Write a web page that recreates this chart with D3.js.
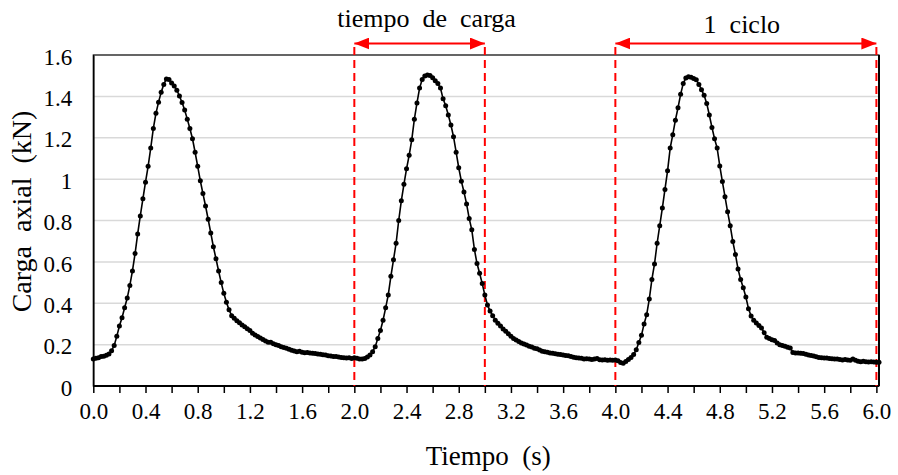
<!DOCTYPE html>
<html>
<head>
<meta charset="utf-8">
<script src="https://cdn.jsdelivr.net/npm/d3@7"></script>
<style>
  body { margin: 0; background: #fff; }
  text { font-family: "Liberation Serif", "Times New Roman", serif; fill: #000; white-space: pre; }
</style>
</head>
<body>
<svg id="chart" width="898" height="475"></svg>
<script>
// Axial load record, one sample every 0.02 s
const sampleInterval = 0.02;
const loadKN = [
  0.130, 0.134, 0.137, 0.142, 0.144, 0.149, 0.155, 0.170, 0.196, 0.240,
  0.290, 0.330, 0.378, 0.425, 0.486, 0.556, 0.640, 0.735, 0.822, 0.905,
  0.985, 1.062, 1.150, 1.245, 1.318, 1.372, 1.420, 1.458, 1.484, 1.482,
  1.465, 1.450, 1.430, 1.402, 1.370, 1.334, 1.290, 1.245, 1.195, 1.130,
  1.062, 0.992, 0.930, 0.870, 0.806, 0.740, 0.673, 0.615, 0.556, 0.500,
  0.448, 0.405, 0.368, 0.340, 0.327, 0.316, 0.306, 0.295, 0.287, 0.277,
  0.268, 0.255, 0.246, 0.239, 0.232, 0.225, 0.218, 0.211, 0.211, 0.204,
  0.199, 0.196, 0.190, 0.186, 0.182, 0.178, 0.173, 0.169, 0.166, 0.168,
  0.163, 0.161, 0.162, 0.159, 0.158, 0.157, 0.155, 0.153, 0.151, 0.150,
  0.146, 0.145, 0.142, 0.143, 0.140, 0.138, 0.137, 0.135, 0.136, 0.133,
  0.137, 0.134, 0.131, 0.130, 0.133, 0.140, 0.150, 0.165, 0.190, 0.230,
  0.268, 0.318, 0.378, 0.440, 0.530, 0.610, 0.690, 0.800, 0.895, 0.975,
  1.050, 1.115, 1.190, 1.290, 1.368, 1.440, 1.482, 1.498, 1.503, 1.501,
  1.490, 1.476, 1.462, 1.440, 1.388, 1.355, 1.310, 1.262, 1.205, 1.130,
  1.055, 0.990, 0.938, 0.880, 0.810, 0.755, 0.660, 0.592, 0.545, 0.495,
  0.440, 0.392, 0.362, 0.340, 0.318, 0.303, 0.290, 0.276, 0.265, 0.252,
  0.240, 0.230, 0.222, 0.215, 0.208, 0.203, 0.198, 0.192, 0.188, 0.183,
  0.180, 0.174, 0.168, 0.166, 0.163, 0.160, 0.158, 0.156, 0.153, 0.152,
  0.150, 0.148, 0.146, 0.142, 0.139, 0.137, 0.135, 0.134, 0.131, 0.132,
  0.131, 0.128, 0.130, 0.133, 0.127, 0.126, 0.127, 0.125, 0.126, 0.125,
  0.126, 0.122, 0.114, 0.110, 0.118, 0.128, 0.138, 0.152, 0.175, 0.210,
  0.245, 0.300, 0.345, 0.420, 0.515, 0.590, 0.690, 0.775, 0.860, 0.950,
  1.040, 1.150, 1.215, 1.285, 1.345, 1.410, 1.462, 1.489, 1.495, 1.492,
  1.486, 1.480, 1.458, 1.432, 1.405, 1.366, 1.310, 1.250, 1.195, 1.150,
  1.064, 0.988, 0.915, 0.842, 0.775, 0.698, 0.636, 0.565, 0.515, 0.475,
  0.430, 0.374, 0.338, 0.318, 0.305, 0.292, 0.280, 0.258, 0.236, 0.230,
  0.224, 0.220, 0.208, 0.199, 0.196, 0.192, 0.187, 0.184, 0.162, 0.160,
  0.160, 0.158, 0.157, 0.154, 0.150, 0.148, 0.145, 0.141, 0.138, 0.136,
  0.135, 0.135, 0.133, 0.132, 0.130, 0.131, 0.128, 0.126, 0.128, 0.126,
  0.124, 0.130, 0.124, 0.120, 0.117, 0.120, 0.117, 0.116, 0.117, 0.116,
  0.115, 0.115
];

const xMajorTicks = [0.0, 0.4, 0.8, 1.2, 1.6, 2.0, 2.4, 2.8, 3.2, 3.6, 4.0, 4.4, 4.8, 5.2, 5.6, 6.0];
const xTickLabels = ["0.0", "0.4", "0.8", "1.2", "1.6", "2.0", "2.4", "2.8", "3.2", "3.6", "4.0", "4.4", "4.8", "5.2", "5.6", "6.0"];
const xMinorTicks = [0.2, 0.6, 1.0, 1.4, 1.8, 2.2, 2.6, 3.0, 3.4, 3.8, 4.2, 4.6, 5.0, 5.4, 5.8];
const yTicks = [0, 0.2, 0.4, 0.6, 0.8, 1.0, 1.2, 1.4, 1.6];
const yTickLabels = ["0", "0.2", "0.4", "0.6", "0.8", "1", "1.2", "1.4", "1.6"];

// Reference marks: vertical cut lines and labelled spans (seconds)
const cutTimes = [2.0, 3.0, 4.0, 6.0];
const spanStarts = [2.0, 4.0];
const spanEnds = [3.0, 6.0];
const spanLabels = ["tiempo  de  carga", "1  ciclo"];

const svg = d3.select("#chart");
const W = 898, H = 475;
const plot = { left: 93.3, right: 879, top: 55, bottom: 386 };

svg.append("rect").attr("width", W).attr("height", H).attr("fill", "#fff");

const x = d3.scaleLinear().domain([0, 6.02]).range([plot.left, plot.right]);
const y = d3.scaleLinear().domain([0, 1.6]).range([plot.bottom, plot.top]);

// horizontal gridlines
svg.append("g")
  .selectAll("line")
  .data(yTicks.filter(v => v > 0 && v < 1.6))
  .join("line")
  .attr("x1", plot.left).attr("x2", plot.right)
  .attr("y1", d => y(d)).attr("y2", d => y(d))
  .attr("stroke", "#d9d9d9").attr("stroke-width", 1.5);

// plot frame
svg.append("rect")
  .attr("x", plot.left).attr("y", plot.top)
  .attr("width", plot.right - plot.left).attr("height", plot.bottom - plot.top)
  .attr("fill", "none").attr("stroke", "#000").attr("stroke-width", 1.2);
svg.append("line")
  .attr("x1", plot.right).attr("x2", plot.right)
  .attr("y1", plot.top).attr("y2", plot.bottom)
  .attr("stroke", "#000").attr("stroke-width", 2);

// x axis with labelled and unlabelled ticks
const allXTicks = xMajorTicks.concat(xMinorTicks).sort((a, b) => a - b);
const xAxis = d3.axisBottom(x)
  .tickValues(allXTicks)
  .tickSize(7)
  .tickPadding(10)
  .tickFormat(d => {
    const i = xMajorTicks.findIndex(v => Math.abs(v - d) < 1e-9);
    return i >= 0 ? xTickLabels[i] : "";
  });
const gx = svg.append("g").attr("transform", `translate(0,${plot.bottom})`).call(xAxis);
gx.select(".domain").attr("stroke", "#000").attr("stroke-width", 2)
  .attr("d", `M${plot.left},0H${plot.right}`);
gx.selectAll(".tick line").attr("stroke", "#000").attr("stroke-width", 1.5);
gx.selectAll(".tick text")
  .style("font-family", '"Liberation Serif", "Times New Roman", serif')
  .style("font-size", "23px").attr("fill", "#000");

// y axis
const yAxis = d3.axisLeft(y)
  .tickValues(yTicks)
  .tickSize(0)
  .tickPadding(21)
  .tickFormat((d, i) => yTickLabels[i]);
const gy = svg.append("g").attr("transform", `translate(${plot.left},0)`).call(yAxis);
gy.select(".domain").attr("stroke", "#000").attr("stroke-width", 1.6);
gy.selectAll(".tick text")
  .style("font-family", '"Liberation Serif", "Times New Roman", serif')
  .style("font-size", "23px").attr("fill", "#000").attr("dy", "0.4em");

// axis titles
svg.append("text")
  .attr("x", (plot.left + plot.right) / 2 + 2).attr("y", 465)
  .attr("text-anchor", "middle").style("font-size", "27px")
  .text("Tiempo  (s)");
svg.append("text")
  .attr("transform", `translate(31,${(plot.top + plot.bottom) / 2 - 9}) rotate(-90)`)
  .attr("text-anchor", "middle").style("font-size", "28px")
  .text("Carga  axial  (kN)");

// dashed cut lines
svg.append("g")
  .selectAll("line")
  .data(cutTimes)
  .join("line")
  .attr("x1", d => x(d)).attr("x2", d => x(d))
  .attr("y1", 47).attr("y2", plot.bottom)
  .attr("stroke", "#ff0000").attr("stroke-width", 2)
  .attr("stroke-dasharray", "8,5");

// double-headed span arrows
const defs = svg.append("defs");
defs.append("marker")
  .attr("id", "head")
  .attr("viewBox", "0 0 15 12")
  .attr("refX", 15).attr("refY", 6)
  .attr("markerUnits", "userSpaceOnUse")
  .attr("markerWidth", 15).attr("markerHeight", 12)
  .attr("orient", "auto-start-reverse")
  .append("path").attr("d", "M0,0L15,6L0,12Z").attr("fill", "#ff0000");

const spans = svg.append("g");
spanStarts.forEach((s, i) => {
  spans.append("line")
    .attr("x1", x(s)).attr("x2", x(spanEnds[i]))
    .attr("y1", 43.5).attr("y2", 43.5)
    .attr("stroke", "#ff0000").attr("stroke-width", 2.2)
    .attr("marker-start", "url(#head)").attr("marker-end", "url(#head)");
});
spans.append("text")
  .attr("x", (x(spanStarts[0]) + x(spanEnds[0])) / 2 + 7).attr("y", 27)
  .attr("text-anchor", "middle").style("font-size", "26px")
  .text(spanLabels[0]);
spans.append("text")
  .attr("x", (x(spanStarts[1]) + x(spanEnds[1])) / 2 - 4).attr("y", 33)
  .attr("text-anchor", "middle").style("font-size", "26px")
  .text(spanLabels[1]);

// load curve and sample markers
const pts = loadKN.map((v, i) => [i * sampleInterval, v]);
const line = d3.line().x(d => x(d[0])).y(d => y(d[1]));
svg.append("path")
  .datum(pts)
  .attr("d", line)
  .attr("fill", "none").attr("stroke", "#000").attr("stroke-width", 1.6);
svg.append("g")
  .selectAll("circle")
  .data(pts)
  .join("circle")
  .attr("cx", d => x(d[0])).attr("cy", d => y(d[1]))
  .attr("r", 2.5).attr("fill", "#000");
</script>
</body>
</html>
